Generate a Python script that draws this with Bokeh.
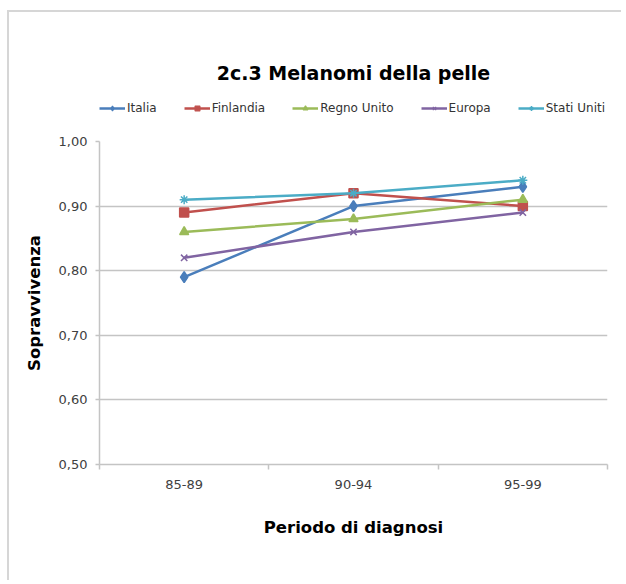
from bokeh.plotting import figure
from bokeh.layouts import column
from bokeh.models import Range1d, FixedTicker, Legend, LegendItem, Label
from bokeh.embed import file_html
from bokeh.resources import INLINE

# ---- data ----
title_text = "2c.3 Melanomi della pelle"
periods = ["85-89", "90-94", "95-99"]
series_names = ["Italia", "Finlandia", "Regno Unito", "Europa", "Stati Uniti"]
italia = [0.79, 0.90, 0.93]
finlandia = [0.89, 0.92, 0.90]
regno_unito = [0.86, 0.88, 0.91]
europa = [0.82, 0.86, 0.89]
stati_uniti = [0.91, 0.92, 0.94]
y_ticks = [0.5, 0.6, 0.7, 0.8, 0.9, 1.0]
y_tick_labels = ["0,50", "0,60", "0,70", "0,80", "0,90", "1,00"]

FONT = "DejaVu Sans"
GRID = "#c4c4c4"
colors = ["#4A7EBB", "#C0504D", "#9BBB59", "#8064A2", "#4BACC6"]
markers = ["diamond", "square", "triangle", "x", "asterisk"]
sizes = [11, 9, 9, 9, 9]
all_vals = [italia, finlandia, regno_unito, europa, stati_uniti]
x = [i + 0.5 for i in range(len(periods))]

W = 612

# ---- header figure: title + legend (its frame is aligned with the chart's) ----
top = figure(width=W, height=113, output_backend="svg", toolbar_location=None,
             x_range=Range1d(0, len(periods)), y_range=Range1d(10, 11),
             x_axis_location=None, y_axis_location=None,
             min_border_left=90, min_border_right=14, min_border_top=0,
             min_border_bottom=0)
top.outline_line_color = None
top.grid.visible = False

top.add_layout(Label(x=254, y=53, x_units="screen", y_units="screen",
                     text=title_text, text_align="center", text_baseline="middle",
                     text_font=FONT, text_font_size="19px", text_font_style="bold",
                     text_color="black"))

items = []
for name, vals, col, mk, sz in zip(series_names, all_vals, colors, markers, sizes):
    # same series, outside the header's visible range: used only for the legend swatches
    r1 = top.line(x, vals, line_color=col, line_width=2.5)
    r2 = top.scatter(x, vals, marker=mk, size=sz - 3, fill_color=col,
                     line_color=col, line_width=1.2)
    items.append(LegendItem(label=name, renderers=[r1, r2]))

legend = Legend(items=items, orientation="horizontal", location=(0, 10))
legend.label_text_font = FONT
legend.label_text_font_size = "12px"
legend.label_text_color = "#333333"
legend.glyph_width = 26
legend.glyph_height = 12
legend.label_height = 12
legend.label_standoff = 2
legend.spacing = 27
legend.padding = 0
legend.margin = 0
legend.border_line_color = None
legend.background_fill_alpha = 0
top.add_layout(legend)

# ---- main chart ----
p = figure(width=W, height=455, output_backend="svg", toolbar_location=None,
           x_range=Range1d(0, len(periods)), y_range=Range1d(0.5, 1.0),
           min_border_left=90, min_border_right=14, min_border_top=16,
           min_border_bottom=116)
p.outline_line_color = None

for name, vals, col, mk, sz in zip(series_names, all_vals, colors, markers, sizes):
    p.line(x, vals, line_color=col, line_width=2.5)
    p.scatter(x, vals, marker=mk, size=sz, fill_color=col, line_color=col,
              line_width=1.5)

# x axis
xa = p.xaxis[0]
xa.ticker = FixedTicker(ticks=x, minor_ticks=list(range(len(periods) + 1)))
xa.major_label_overrides = dict(zip(x, periods))
xa.major_tick_line_color = None
xa.major_tick_out = 0
xa.major_tick_in = 0
xa.minor_tick_out = 5
xa.minor_tick_in = 0
xa.minor_tick_line_color = GRID
xa.minor_tick_line_width = 1.5
xa.major_label_standoff = 10
xa.axis_label = "Periodo di diagnosi"
xa.axis_label_standoff = 26

# y axis
ya = p.yaxis[0]
ya.ticker = FixedTicker(ticks=y_ticks, minor_ticks=[])
ya.major_label_overrides = dict(zip(y_ticks, y_tick_labels))
ya.major_tick_out = 4
ya.major_tick_in = 0
ya.major_tick_line_color = GRID
ya.major_tick_line_width = 1.5
ya.minor_tick_line_color = None
ya.major_label_standoff = 8
ya.axis_label = "Sopravvivenza"
ya.axis_label_standoff = 12

for ax in (xa, ya):
    ax.axis_line_color = GRID
    ax.axis_line_width = 1.5
    ax.major_label_text_font = FONT
    ax.major_label_text_font_size = "13px"
    ax.major_label_text_color = "#404040"
    ax.axis_label_text_font = FONT
    ax.axis_label_text_font_size = "16.5px"
    ax.axis_label_text_font_style = "bold"
    ax.axis_label_text_color = "black"

p.xgrid.visible = False
p.ygrid.ticker = FixedTicker(ticks=y_ticks)
p.ygrid.grid_line_color = GRID
p.ygrid.grid_line_width = 1.5

layout = column(top, p, spacing=0,
                styles={"margin-left": "7px", "margin-top": "10px",
                        "border-left": "2px solid #d6d6d6",
                        "border-top": "2px solid #d6d6d6"})

open("out.html", "w").write(file_html(layout, INLINE))
